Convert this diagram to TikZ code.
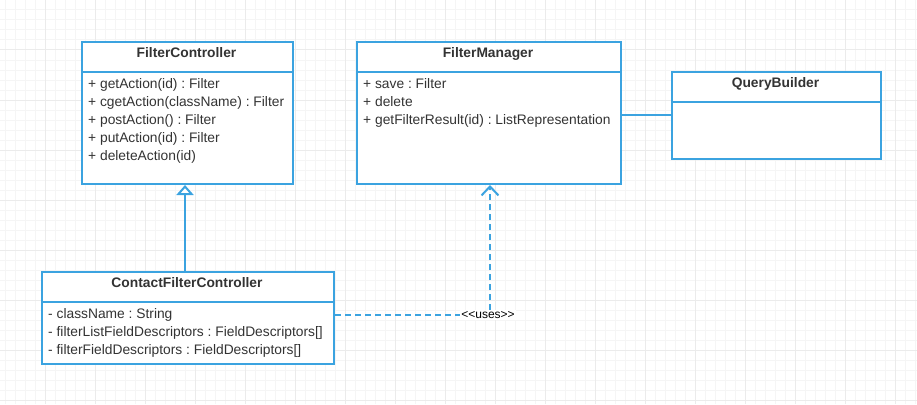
\documentclass[tikz,border=0pt]{standalone}
\usepackage{fontspec}
\setmainfont{Liberation Sans}
\usetikzlibrary{arrows.meta}
\definecolor{umlblue}{RGB}{59,163,224}
\definecolor{txt}{RGB}{51,51,51}
\definecolor{gridminor}{RGB}{245,245,245}
\definecolor{gridmajor}{RGB}{235,235,235}
\frenchspacing
\begin{document}
\begin{tikzpicture}[x=1pt,y=-1pt,
  cls/.style={draw=umlblue, line width=2pt, fill=white, inner sep=0pt, anchor=north west},
  title/.style={font=\bfseries\fontsize{13.8}{16}\selectfont, text=txt, anchor=base, inner sep=0pt},
  member/.style={font=\fontsize{13.8}{16}\selectfont, text=txt, anchor=base west, inner sep=0pt},
  sep/.style={draw=umlblue, line width=2pt},
  conn/.style={draw=umlblue, line width=2pt},
  dep/.style={conn, dash pattern=on 6pt off 4pt},
  lbl/.style={font=\fontsize{12}{14}\selectfont, text=black, fill=white, inner sep=1pt}]
\useasboundingbox (0,0) rectangle (917,404);
\fill[white] (0,0) rectangle (917,404);
\foreach \x in {5,15,...,915} \draw[gridminor, line width=1pt] (\x,0) -- (\x,404);
\foreach \y in {0,10,...,400} \draw[gridminor, line width=1pt] (0,\y) -- (917,\y);
\foreach \x in {45,95,...,895} \draw[gridmajor, line width=1pt] (\x,0) -- (\x,404);
\foreach \y in {0,50,...,400} \draw[gridmajor, line width=1pt] (0,\y) -- (917,\y);

% FilterController
\node[cls, minimum width=211pt, minimum height=142pt] (fc) at (81,41) {};
\draw[sep] (fc.west |- 0,72) -- (fc.east |- 0,72);
\node[title] (fct) at (186.5,57.3) {FilterController};
\node[member] (fc1) at (88,88.5) {+ getAction(id) : Filter};
\node[member] (fc2) at (88,106.5) {+ cgetAction(className) : Filter};
\node[member] (fc3) at (88,124.5) {+ postAction() : Filter};
\node[member] (fc4) at (88,142.5) {+ putAction(id) : Filter};
\node[member] (fc5) at (88,160.5) {+ deleteAction(id)};

% FilterManager
\node[cls, minimum width=264pt, minimum height=142pt] (fm) at (356,41) {};
\draw[sep] (fm.west |- 0,72) -- (fm.east |- 0,72);
\node[title] (fmt) at (488,57.3) {FilterManager};
\node[member] (fm1) at (363,88.5) {+ save : Filter};
\node[member] (fm2) at (363,106.5) {+ delete};
\node[member] (fm3) at (363,124.5) {+ getFilterResult(id) : ListRepresentation};

% QueryBuilder
\node[cls, minimum width=209pt, minimum height=87pt] (qb) at (671,71) {};
\draw[sep] (qb.west |- 0,102) -- (qb.east |- 0,102);
\node[title] (qbt) at (775.5,87.3) {QueryBuilder};

% ContactFilterController
\node[cls, minimum width=292pt, minimum height=92pt] (cfc) at (41,271) {};
\draw[sep] (cfc.west |- 0,302) -- (cfc.east |- 0,302);
\node[title] (cfct) at (187,287.3) {ContactFilterController};
\node[member] (cfc1) at (48,318.5) {- className : String};
\node[member] (cfc2) at (48,336.5) {- filterListFieldDescriptors : FieldDescriptors[]};
\node[member] (cfc3) at (48,354.5) {- filterFieldDescriptors : FieldDescriptors[]};

% connectors
\draw[conn] (fm.east |- 0,115) -- (qb.west |- 0,115);
\draw[conn, -{Triangle[open, width=17pt, length=10pt, line width=2pt, fill=white]}]
  (cfc.north -| 185,0) -- (fc.south -| 185,0);
\coordinate (bend) at (490,315);
\draw[dep, -{Straight Barb[width=17pt, length=9pt, line width=2pt]}]
  (cfc.east |- bend) -- (bend) -- (bend |- fm.south);
\node[lbl] (uses) at (488,315) {<\kern0pt<uses>\kern0pt>};
\end{tikzpicture}
\end{document}
